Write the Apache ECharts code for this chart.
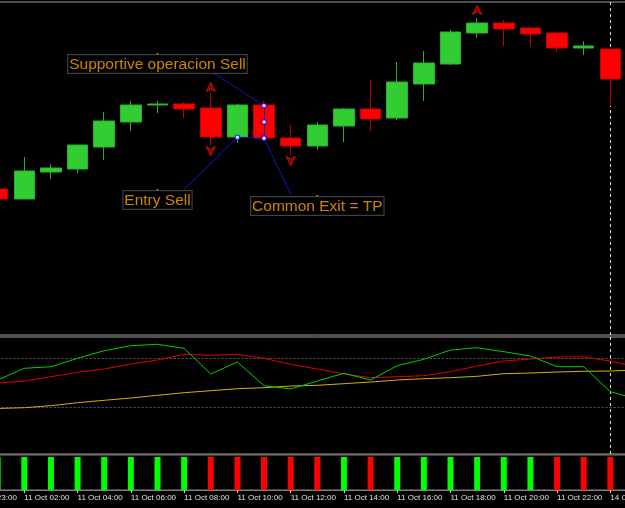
<!DOCTYPE html>
<html>
<head>
<meta charset="utf-8">
<script src="https://cdn.jsdelivr.net/npm/echarts@6/dist/echarts.min.js"></script>
<style>
  html, body { margin: 0; padding: 0; background: #000; }
  #chart { width: 625px; height: 508px; }
</style>
</head>
<body>
<div id="chart"></div>
<script>
// hourly bars, H1 chart
const categories = [
  '10 Oct 23:00', '11 Oct 01:00', '11 Oct 02:00', '11 Oct 03:00', '11 Oct 04:00',
  '11 Oct 05:00', '11 Oct 06:00', '11 Oct 07:00', '11 Oct 08:00', '11 Oct 09:00',
  '11 Oct 10:00', '11 Oct 11:00', '11 Oct 12:00', '11 Oct 13:00', '11 Oct 14:00',
  '11 Oct 15:00', '11 Oct 16:00', '11 Oct 17:00', '11 Oct 18:00', '11 Oct 19:00',
  '11 Oct 20:00', '11 Oct 21:00', '11 Oct 22:00', '11 Oct 23:00', '14 Oct 00:00',
  '14 Oct 01:00'
]

// prices in points
const open  = ['-', 146, 136, 163, 166, 188, 213, 230, 231, 227, 198, 230, 197, 189, 209, 226, 217, 251, 271, 302, 312, 307, 302, 287, 286, '-']
const close = ['-', 136, 164, 167, 190, 214, 230, 231, 226, 198, 230, 197, 189, 210, 226, 216, 253, 272, 303, 312, 306, 301, 287, 289, 256, '-']
const low   = ['-', 135, 136, 156, 162, 175, 204, 222, 217, 190, 192, 197, 180, 185, 193, 204, 215, 234, 270, 297, 289, 288, 283, 280, 229, '-']
const high  = ['-', 147, 178, 171, 190, 223, 234, 234, 233, 242, 231, 234, 210, 213, 227, 255, 273, 284, 305, 317, 315, 307, 303, 294, 286, '-']

// arrows [bar index, price]
const upArrows = [[9, 248], [19, 325]]
const downArrows = [[9, 184], [12, 174]]

// oscillator window
const oscGreen  = ['-', 74, 85.7, 87.3, 95.7, 103.3, 108.3, 109.7, 105.7, 80, 92, 68.3, 65, 73, 80.7, 74, 88.3, 94.7, 104, 106.3, 102.3, 98, 87.3, 87.3, 62.3, 55]
const oscRed    = ['-', 71, 73, 77.3, 81.7, 85, 90, 94, 99.7, 98.7, 99.7, 95.7, 89.7, 85, 80, 76.3, 77.3, 78.3, 82.3, 88, 93, 95, 97, 97, 93, 87]
const oscYellow = ['-', 45.5, 46.3, 48.3, 51.3, 53.7, 56, 58.7, 61.3, 63.3, 65.3, 66.3, 68, 68.7, 70.3, 72, 74, 75.3, 76.3, 77.7, 80.3, 81, 82, 82.7, 83, 84]
const oscLevels = [96, 47]

// signal window: 1 buy, -1 sell
const signal = ['-', 1, 1, 1, 1, 1, 1, 1, 1, -1, -1, -1, -1, -1, 1, -1, 1, 1, 1, 1, 1, 1, -1, -1, -1, '-']

// drawn objects on the price window
const trendLines = [
  [[9, 263.7], [11, 229.3]],
  [[11, 229.3], [11, 196.7]],
  [[10, 197.7], [11, 196.7]],
  [[8, 145.7], [10, 197.7]],
  [[11, 196.7], [12, 141]]
]
const handles = [[10, 197.7], [10.5, 197.2], [11, 196.7], [11, 229.3], [11, 213]]
const textLabels = [
  { name: 'Supportive operacion Sell', value: [7, 281] },
  { name: 'Entry Sell', value: [7, 145] },
  { name: 'Common Exit = TP', value: [13, 139] }
]

const separator = '14 Oct 00:00'

const chart = echarts.init(document.getElementById('chart'))

const candles = open.map((o, i) => o === '-' ? ['-', '-', '-', '-'] : [o, close[i], low[i], high[i]])

const sepLine = {
  silent: true,
  symbol: 'none',
  z: 1,
  label: { show: false },
  lineStyle: { color: '#E0E0E0', type: [3, 3], width: 1 },
  data: [{ xAxis: separator }]
}

const hiddenX = (i) => ({
  type: 'category', gridIndex: i, data: categories, boundaryGap: true,
  axisLine: { show: false }, axisTick: { show: false }, axisLabel: { show: false }, splitLine: { show: false }
})

const gridBase = { left: -42.3, width: 692.6, show: true, borderWidth: 1, backgroundColor: 'transparent', containLabel: false, outerBoundsMode: 'none' }

const option = {
  backgroundColor: '#000',
  animation: false,
  grid: [
    { ...gridBase, top: 2, height: 333, borderColor: '#A0A0A0' },
    { ...gridBase, top: 337, height: 117, borderColor: '#A0A0A0' },
    { ...gridBase, top: 455, height: 35, borderColor: '#808080' }
  ],
  xAxis: [
    hiddenX(0),
    hiddenX(1),
    {
      type: 'category', gridIndex: 2, data: categories, boundaryGap: true,
      axisLine: { show: true, lineStyle: { color: '#808080' } },
      axisTick: { show: true, alignWithLabel: true, length: 3, interval: (i) => i % 2 === 0, lineStyle: { color: '#D0D0D0' } },
      axisLabel: {
        show: true, interval: (i) => i % 2 === 0, align: 'left', margin: 4,
        color: '#E0E0E0', fontSize: 8, fontFamily: 'Liberation Sans'
      },
      splitLine: { show: false }
    }
  ],
  yAxis: [
    { type: 'value', gridIndex: 0, min: 0, max: 333, show: false, splitLine: { show: false } },
    { type: 'value', gridIndex: 1, min: 0, max: 117, show: false, splitLine: { show: false } },
    { type: 'value', gridIndex: 2, min: 0, max: 1.06, show: false, splitLine: { show: false } }
  ],
  series: [
    {
      name: 'price', type: 'candlestick', xAxisIndex: 0, yAxisIndex: 0, z: 5,
      data: candles, barWidth: 21,
      itemStyle: { color: '#32CD32', color0: '#FF0000', borderColor: '#28B428', borderColor0: '#C00000', borderWidth: 1 },
      markLine: sepLine
    },
    {
      name: 'up arrows', type: 'scatter', xAxisIndex: 0, yAxisIndex: 0, z: 6,
      symbol: 'path://M5,0 L10,10 L5,7 L0,10 Z', symbolSize: [9, 9],
      itemStyle: { color: '#A00000', borderColor: '#FF1010', borderWidth: 1 },
      data: upArrows
    },
    {
      name: 'down arrows', type: 'scatter', xAxisIndex: 0, yAxisIndex: 0, z: 6,
      symbol: 'path://M0,0 L5,3 L10,0 L5,10 Z', symbolSize: [9, 9],
      itemStyle: { color: '#A00000', borderColor: '#FF1010', borderWidth: 1 },
      data: downArrows
    },
    {
      name: 'trend lines', type: 'lines', coordinateSystem: 'cartesian2d', xAxisIndex: 0, yAxisIndex: 0, z: 7,
      lineStyle: { color: '#1414C8', width: 1, opacity: 1 },
      data: trendLines.map(c => ({ coords: c }))
    },
    {
      name: 'text', type: 'scatter', xAxisIndex: 0, yAxisIndex: 0, z: 8,
      symbol: 'rect', symbolSize: 2,
      itemStyle: { color: '#FFA500' },
      label: {
        show: true, position: 'bottom', distance: 0,
        formatter: '{b}',
        color: '#FFA500', fontSize: 15.5, fontFamily: 'Liberation Sans', lineHeight: 17,
        backgroundColor: '#000', borderColor: '#505050', borderWidth: 1, padding: [1, 1, 0, 1]
      },
      data: textLabels
    },
    {
      name: 'handles', type: 'scatter', xAxisIndex: 0, yAxisIndex: 0, z: 9,
      symbol: 'rect', symbolSize: 4,
      itemStyle: { color: '#FFFFFF', borderColor: '#0000FF', borderWidth: 1 },
      data: handles
    },
    {
      name: 'osc green', type: 'line', xAxisIndex: 1, yAxisIndex: 1, data: oscGreen,
      symbol: 'none', lineStyle: { color: '#00D000', width: 1 }, z: 5,
      markLine: {
        silent: true, symbol: 'none', z: 1, label: { show: false },
        data: [
          ...oscLevels.map(v => ({ yAxis: v, lineStyle: { color: '#5A5A5A', type: [2, 2], width: 1 } })),
          { xAxis: separator, lineStyle: { color: '#E0E0E0', type: [3, 3], width: 1 } }
        ]
      }
    },
    {
      name: 'osc red', type: 'line', xAxisIndex: 1, yAxisIndex: 1, data: oscRed,
      symbol: 'none', lineStyle: { color: '#E00000', width: 1 }, z: 4
    },
    {
      name: 'osc yellow', type: 'line', xAxisIndex: 1, yAxisIndex: 1, data: oscYellow,
      symbol: 'none', lineStyle: { color: '#D4B000', width: 1 }, z: 4
    },
    {
      name: 'signal', type: 'bar', xAxisIndex: 2, yAxisIndex: 2, barWidth: 6, z: 5,
      data: signal.map(s => s === '-' ? '-' : { value: Math.abs(s), itemStyle: { color: s > 0 ? '#00FF00' : '#FF0000' } }),
      markLine: sepLine
    }
  ]
}

chart.setOption(option)
</script>
</body>
</html>
